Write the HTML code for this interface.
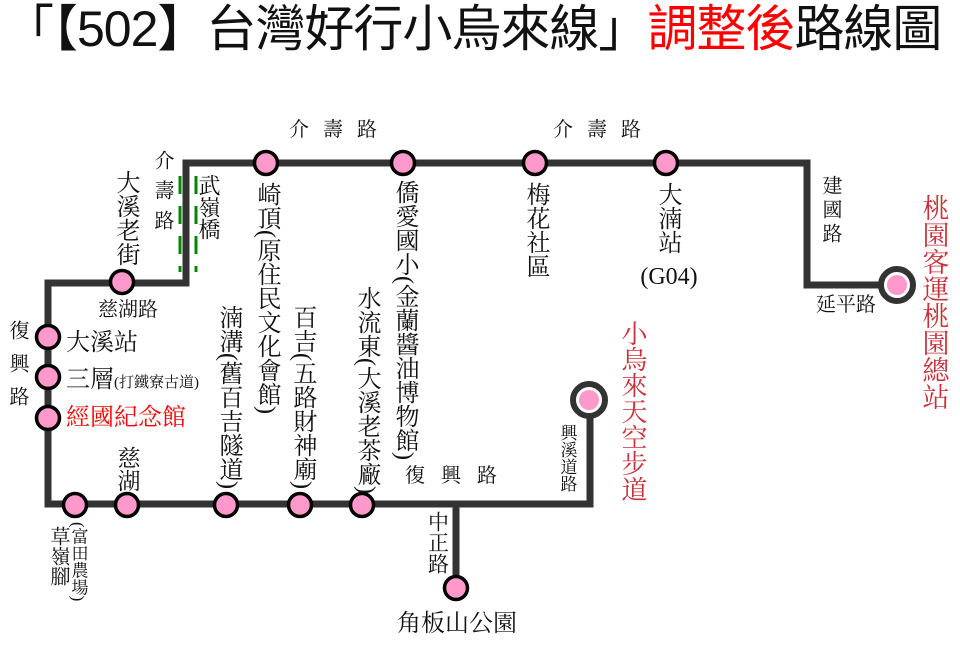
<!DOCTYPE html>
<html><head><meta charset="utf-8"><style>
body{margin:0;width:960px;height:646px;background:#fff;position:relative;overflow:hidden}
.t{position:absolute;font-family:"Liberation Serif","Noto Serif CJK SC","Noto Serif CJK TC",serif;color:#111;line-height:1;white-space:nowrap}
.v{writing-mode:vertical-rl}
.c{transform:translateX(-50%)}
.red{color:#c8303a}
</style></head><body>
<div class="t" style="left:4px;top:4px;font-family:'Liberation Sans','Noto Sans CJK TC',sans-serif;font-size:50px;letter-spacing:-1px">「【502】台灣好行小烏來線」<span style="color:#f00">調整後</span>路線圖</div>
<svg width="960" height="646" style="position:absolute;left:0;top:0">
<g stroke="#333" stroke-width="7" fill="none" stroke-linejoin="miter">
<polyline points="897,285 807,285 807,163 186,163 186,283 48,283 48,504 590,504 590,400"/>
<line x1="456" y1="504" x2="456" y2="588"/>
</g>
<g stroke="#080" stroke-width="3" stroke-dasharray="18,12">
<line x1="180" y1="176" x2="180" y2="272"/><line x1="196" y1="176" x2="196" y2="272"/>
</g>
<g fill="#ff99cc" stroke="#000" stroke-width="3.5">
<circle cx="266" cy="163" r="11.5"/><circle cx="403" cy="163" r="11.5"/><circle cx="535" cy="163" r="11.5"/><circle cx="666" cy="163" r="11.5"/>
<circle cx="122" cy="282" r="11.5"/><circle cx="48" cy="337" r="11.5"/><circle cx="48" cy="377" r="11.5"/><circle cx="48" cy="418" r="11.5"/>
<circle cx="75" cy="505" r="11.5"/><circle cx="127" cy="505" r="11.5"/><circle cx="226" cy="505" r="11.5"/><circle cx="300" cy="505" r="11.5"/><circle cx="362" cy="505" r="11.5"/><circle cx="456" cy="588" r="11.5"/>
</g>
<g><circle cx="897" cy="285" r="16" fill="#fff" stroke="#333" stroke-width="6"/><circle cx="897" cy="285" r="10" fill="#ff99cc"/>
<circle cx="589" cy="400" r="16" fill="#fff" stroke="#333" stroke-width="6"/><circle cx="589" cy="400" r="10" fill="#ff99cc"/></g>
</svg>
<div class="t v c" style="left:125px;top:170px;font-size:24px">大溪老街</div>
<div class="t v c" style="left:162px;top:150px;font-size:20px;letter-spacing:10px">介壽路</div>
<div class="t v c" style="left:208px;top:174px;font-size:22px">武嶺橋</div>
<div class="t v c" style="left:266px;top:182px;font-size:24px">崎頂(原住民文化會館)</div>
<div class="t v c" style="left:228px;top:305px;font-size:24px">湳溝(舊百吉隧道)</div>
<div class="t v c" style="left:302px;top:305px;font-size:24px">百吉(五路財神廟)</div>
<div class="t v c" style="left:366px;top:286px;font-size:24px">水流東(大溪老茶廠)</div>
<div class="t v c" style="left:404px;top:180px;font-size:24px">僑愛國小(金蘭醬油博物館)</div>
<div class="t v c" style="left:535px;top:182px;font-size:24px">梅花社區</div>
<div class="t v c" style="left:667px;top:182px;font-size:24px">大湳站</div>
<div class="t c" style="left:669px;top:265px;font-size:24px">(G04)</div>
<div class="t c" style="left:340px;top:120px;font-size:20px;letter-spacing:14px">介壽路</div>
<div class="t c" style="left:604px;top:120px;font-size:20px;letter-spacing:14px">介壽路</div>
<div class="t v c" style="left:830px;top:175px;font-size:20px;letter-spacing:4px">建國路</div>
<div class="t c" style="left:846px;top:295px;font-size:20px">延平路</div>
<div class="t v c red" style="left:933px;top:194px;font-size:27px">桃園客運桃園總站</div>
<div class="t v c red" style="left:632px;top:320px;font-size:26px">小烏來天空步道</div>
<div class="t v c" style="left:567px;top:424px;font-size:17px">興溪道路</div>
<div class="t c" style="left:459px;top:466px;font-size:20px;letter-spacing:16px">復興路</div>
<div class="t v c" style="left:437px;top:511px;font-size:21px">中正路</div>
<div class="t c" style="left:457px;top:612px;font-size:24px">角板山公園</div>
<div class="t v c" style="left:127px;top:446px;font-size:23px">慈湖</div>
<div class="t v c" style="left:58px;top:526px;font-size:20px">草嶺腳</div>
<div class="t v c" style="left:78px;top:522px;font-size:17px">(富田農場)</div>
<div class="t c" style="left:128px;top:300px;font-size:20px">慈湖路</div>
<div class="t v c" style="left:17px;top:320px;font-size:20px;letter-spacing:13px">復興路</div>
<div class="t" style="left:66px;top:331px;font-size:24px">大溪站</div>
<div class="t" style="left:66px;top:368px;font-size:24px">三層<span style="font-size:15px">(打鐵寮古道)</span></div>
<div class="t" style="left:66px;top:406px;font-size:24px;color:#f00">經國紀念館</div>
</body></html>
